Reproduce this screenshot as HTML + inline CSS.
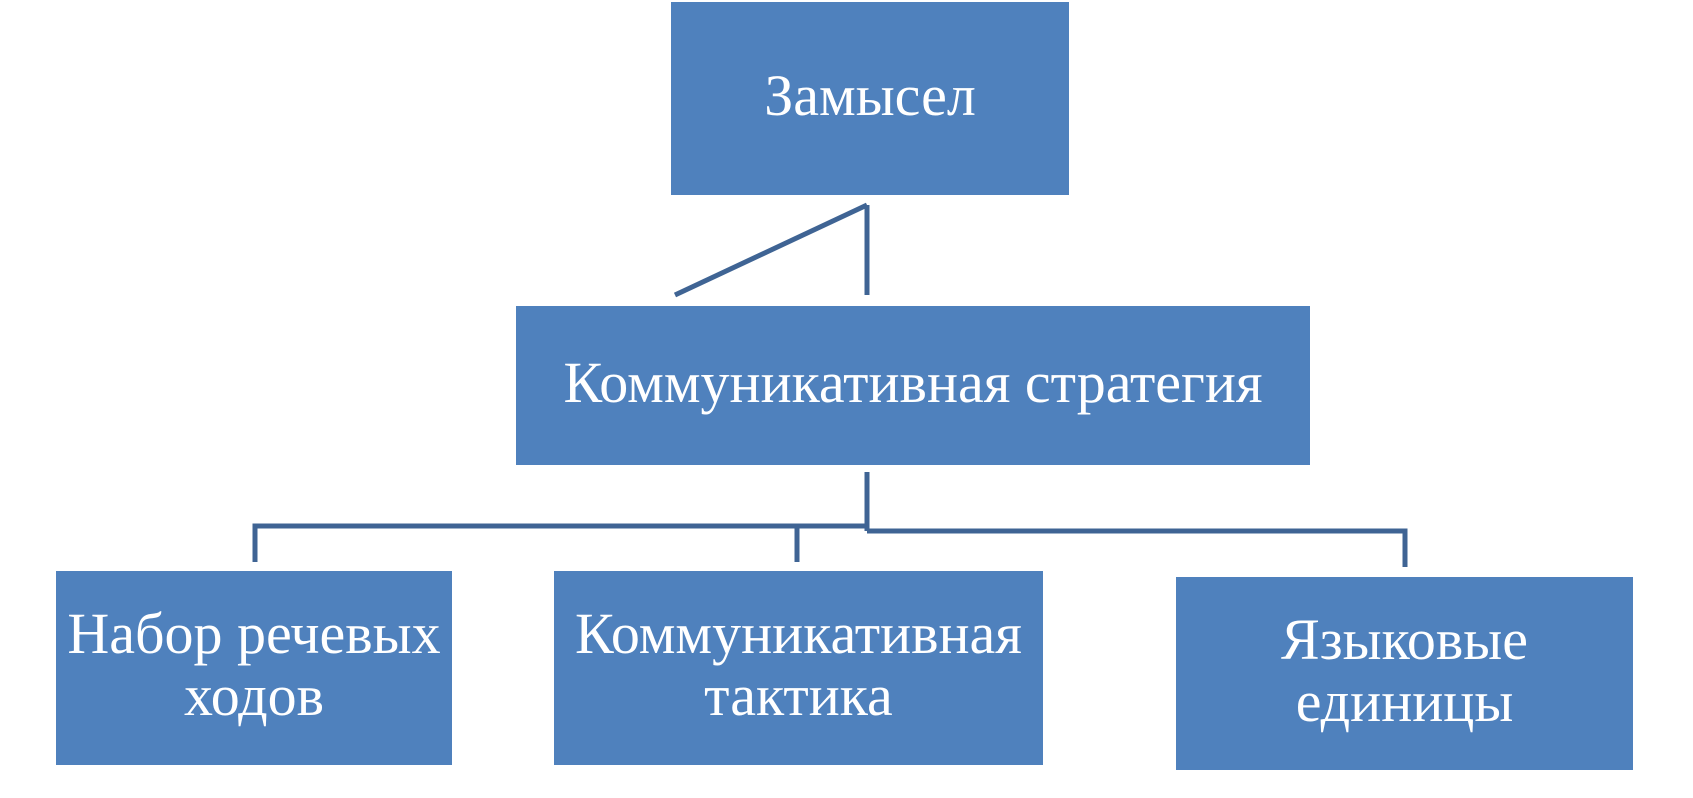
<!DOCTYPE html>
<html><head><meta charset="utf-8"><style>
body{margin:0;background:#fff;width:1693px;height:798px;position:relative;overflow:hidden;font-family:"Liberation Serif",serif;}
.b{position:absolute;background:#4f81bd;color:#fff;display:flex;align-items:center;justify-content:center;text-align:center;font-size:58px;line-height:62px;box-sizing:border-box;padding-bottom:6px;}
svg{position:absolute;left:0;top:0}
</style></head><body>
<svg width="1693" height="798">
<g stroke="#3f6494" stroke-width="5" fill="none">
<line x1="867" y1="205" x2="675" y2="295"/>
<line x1="867" y1="205" x2="867" y2="295"/>
<line x1="867" y1="472" x2="867" y2="531"/>
<polyline points="255,562 255,526 867,526"/>
<line x1="797" y1="526" x2="797" y2="562"/>
<polyline points="867,531 1405,531 1405,567"/>
</g>
</svg>
<div class="b" style="left:671px;top:2px;width:398px;height:193px;">Замысел</div>
<div class="b" style="left:516px;top:306px;width:794px;height:159px;">Коммуникативная стратегия</div>
<div class="b" style="left:56px;top:571px;width:396px;height:194px;">Набор речевых<br>ходов</div>
<div class="b" style="left:554px;top:571px;width:489px;height:194px;">Коммуникативная<br>тактика</div>
<div class="b" style="left:1176px;top:577px;width:457px;height:193px;">Языковые<br>единицы</div>
</body></html>
